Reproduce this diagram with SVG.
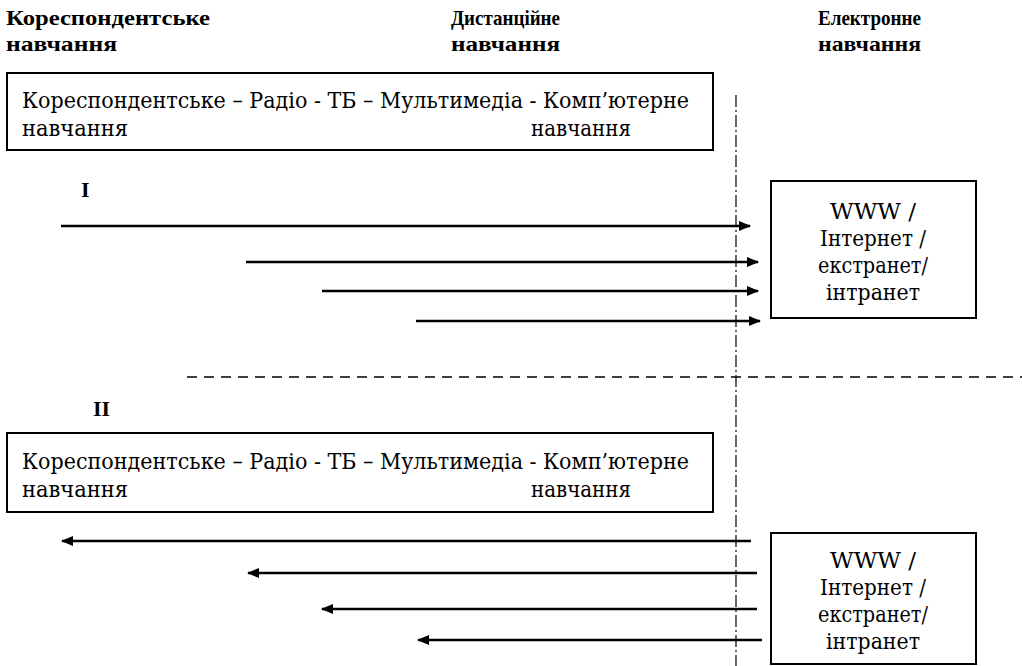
<svg xmlns="http://www.w3.org/2000/svg" width="1022" height="666" viewBox="0 0 1022 666">
<style>
.hdr{font-family:"Liberation Serif","DejaVu Serif",serif;font-weight:bold;font-size:22px;fill:#000}
.txt{font-family:"DejaVu Serif Condensed","DejaVu Serif","Liberation Serif",serif;font-size:22px;fill:#000}
.box{fill:#fff;stroke:#000;stroke-width:2}
.arr{stroke:#000;stroke-width:2.5;fill:none}
.ctr{text-anchor:middle}
</style>
<defs>
<marker id="ah" viewBox="0 0 12 10" refX="11" refY="5" markerWidth="12" markerHeight="10" markerUnits="userSpaceOnUse" orient="auto">
<path d="M0,0 L12,5 L0,10 Z" fill="#000"/>
</marker>
</defs>
<rect width="1022" height="666" fill="#fff"/>
<g id="headers">
<text class="hdr" x="6" y="25" textLength="204" lengthAdjust="spacingAndGlyphs">Кореспондентське</text>
<text class="hdr" x="6" y="51" textLength="111" lengthAdjust="spacingAndGlyphs">навчання</text>
<text class="hdr" x="451" y="25" textLength="109" lengthAdjust="spacingAndGlyphs">Дистанційне</text>
<text class="hdr" x="451" y="51" textLength="109" lengthAdjust="spacingAndGlyphs">навчання</text>
<text class="hdr" x="818" y="25" textLength="103" lengthAdjust="spacingAndGlyphs">Електронне</text>
<text class="hdr" x="818" y="51" textLength="103" lengthAdjust="spacingAndGlyphs">навчання</text>
</g>
<g id="stages-top">
<rect class="box" x="7" y="73" width="706" height="77"/>
<text class="txt" x="22" y="108" textLength="667" lengthAdjust="spacingAndGlyphs">Кореспондентське – Радіо - ТБ – Мультимедіа - Комп’ютерне</text>
<text class="txt" x="22" y="136" textLength="106" lengthAdjust="spacingAndGlyphs">навчання</text>
<text class="txt" x="531" y="136" textLength="100" lengthAdjust="spacingAndGlyphs">навчання</text>
</g>
<g id="label-I"><text class="hdr" x="81" y="197">I</text></g>
<g id="web-top">
<rect class="box" x="771" y="181" width="205" height="137"/>
<text class="txt ctr" x="873" y="219" textLength="86" lengthAdjust="spacingAndGlyphs">WWW /</text>
<text class="txt ctr" x="873" y="246" textLength="106" lengthAdjust="spacingAndGlyphs">Інтернет /</text>
<text class="txt ctr" x="873" y="273" textLength="110" lengthAdjust="spacingAndGlyphs">екстранет/</text>
<text class="txt ctr" x="873" y="300" textLength="94" lengthAdjust="spacingAndGlyphs">інтранет</text>
</g>
<g id="label-II"><text class="hdr" x="93" y="416">II</text></g>
<g id="stages-bottom">
<rect class="box" x="7" y="433" width="706" height="79"/>
<text class="txt" x="22" y="469" textLength="667" lengthAdjust="spacingAndGlyphs">Кореспондентське – Радіо - ТБ – Мультимедіа - Комп’ютерне</text>
<text class="txt" x="22" y="497" textLength="106" lengthAdjust="spacingAndGlyphs">навчання</text>
<text class="txt" x="531" y="497" textLength="100" lengthAdjust="spacingAndGlyphs">навчання</text>
</g>
<g id="web-bottom">
<rect class="box" x="771" y="533" width="205" height="131"/>
<text class="txt ctr" x="873" y="568" textLength="86" lengthAdjust="spacingAndGlyphs">WWW /</text>
<text class="txt ctr" x="873" y="595" textLength="106" lengthAdjust="spacingAndGlyphs">Інтернет /</text>
<text class="txt ctr" x="873" y="622" textLength="110" lengthAdjust="spacingAndGlyphs">екстранет/</text>
<text class="txt ctr" x="873" y="649" textLength="94" lengthAdjust="spacingAndGlyphs">інтранет</text>
</g>
<g id="connectors">
<line x1="736" y1="95" x2="736" y2="666" stroke="#000" stroke-width="1.2" stroke-dasharray="12 3 2 3"/>
<line x1="187" y1="377" x2="1022" y2="377" stroke="#000" stroke-width="1.5" stroke-dasharray="10 7"/>
<line class="arr" x1="61" y1="226" x2="750" y2="226" marker-end="url(#ah)"/>
<line class="arr" x1="246" y1="262" x2="758" y2="262" marker-end="url(#ah)"/>
<line class="arr" x1="322" y1="291" x2="758" y2="291" marker-end="url(#ah)"/>
<line class="arr" x1="416" y1="321" x2="760" y2="321" marker-end="url(#ah)"/>
<line class="arr" x1="751" y1="541" x2="62" y2="541" marker-end="url(#ah)"/>
<line class="arr" x1="757" y1="573" x2="248" y2="573" marker-end="url(#ah)"/>
<line class="arr" x1="757" y1="609" x2="322" y2="609" marker-end="url(#ah)"/>
<line class="arr" x1="762" y1="640" x2="418" y2="640" marker-end="url(#ah)"/>
</g>
</svg>
